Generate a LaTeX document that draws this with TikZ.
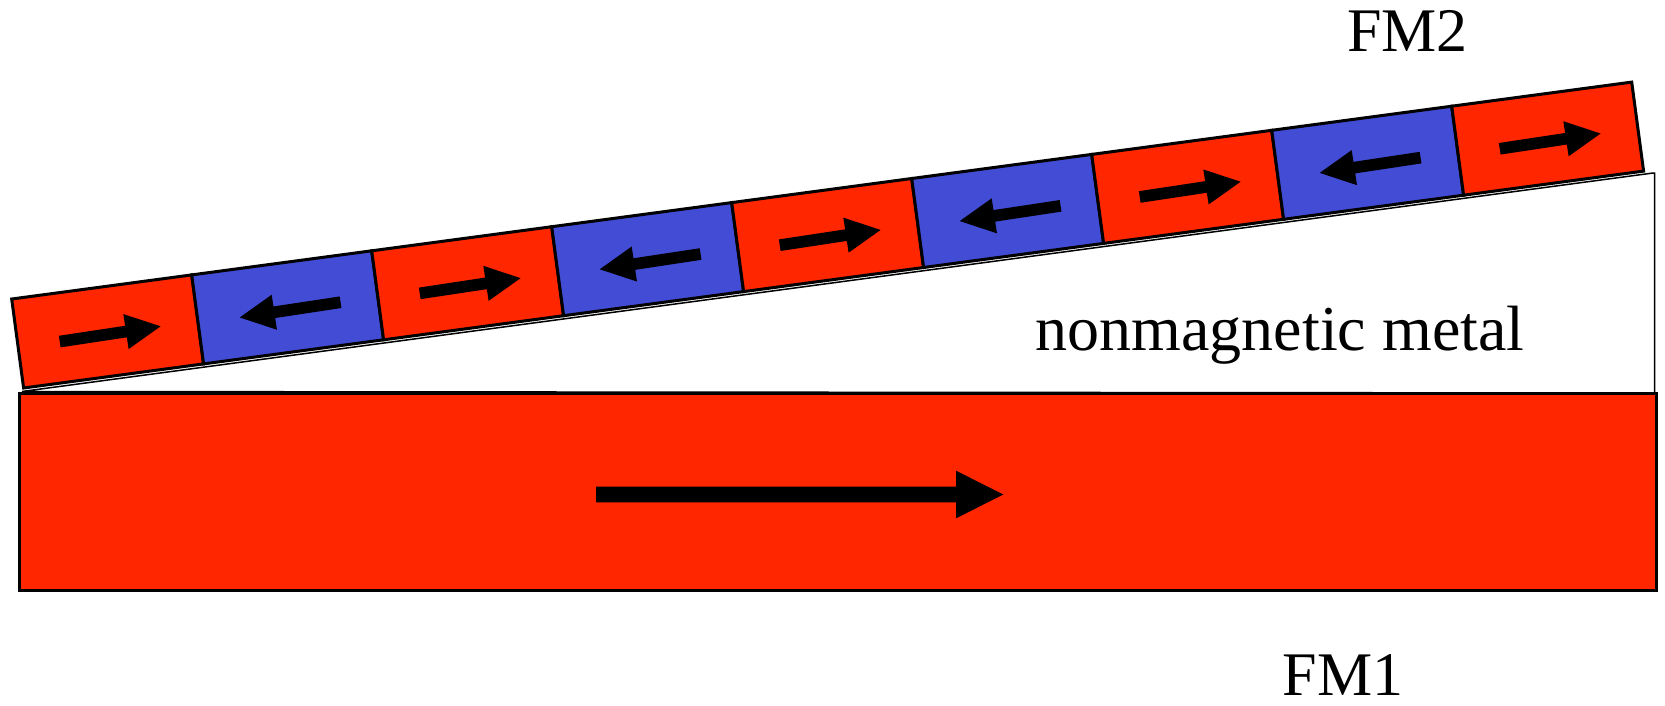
\documentclass[tikz,border=0pt]{standalone}
\usepackage{fontspec}
\setmainfont{Liberation Serif}
\definecolor{fmred}{RGB}{255,38,0}
\definecolor{fmblue}{RGB}{66,76,212}
\begin{document}
\begin{tikzpicture}[x=1pt,y=-1pt,
  layer/.style={line width=3pt, draw=black, line join=miter},
  spacer/.style={draw=black, line width=1.5pt, fill=white},
  magarrow/.style={fill=black, draw=none},
  lbl/.style={inner sep=0pt, anchor=base, font=\fontsize{62}{70}\selectfont}]
\useasboundingbox (0,0) rectangle (1665,705);
% nonmagnetic metal wedge
\draw[spacer] (22,391.5) -- (1653,173) -- (1654.5,173) -- (1654.5,393) -- cycle;
% FM1 layer
\draw[layer, fill=fmred] (19.5,393) rectangle (1656,590);
\fill[magarrow] (596,486.7) -- (956,486.7) -- (956,470.7) -- (1003.3,494.5) -- (956,518.3) -- (956,502.3) -- (596,502.3) -- cycle;
% FM2 domains
\foreach \k in {0,...,8} {
  \pgfmathsetmacro\xa{11.7+180*\k}
  \pgfmathsetmacro\ya{299-24.1*\k}
  \pgfmathtruncatemacro\odd{mod(\k,2)}
  \ifnum\odd=0 \def\col{fmred}\def\dir{1}\else\def\col{fmblue}\def\dir{-1}\fi
  \draw[layer, fill=\col] (\xa,\ya) -- ++(180,-24.1) -- ++(11.9,89) -- ++(-180,24.1) -- cycle;
  \begin{scope}[shift={(\xa+98.45,\ya+34.95)}, rotate=8.6, xscale=\dir]
    \fill[magarrow] (-51,-5.85) -- (16,-5.85) -- (16,-17.7) -- (51,0) -- (16,17.7) -- (16,5.85) -- (-51,5.85) -- cycle;
  \end{scope}
}
\node[lbl] (fm2) at (1407.5,51.7) {FM2};
\node[lbl] (fm1) at (1343,695.5) {FM1};
\node[lbl, font=\fontsize{64}{70}\selectfont] (nm) at (1280,350) {nonmagnetic metal};
\end{tikzpicture}
\end{document}
